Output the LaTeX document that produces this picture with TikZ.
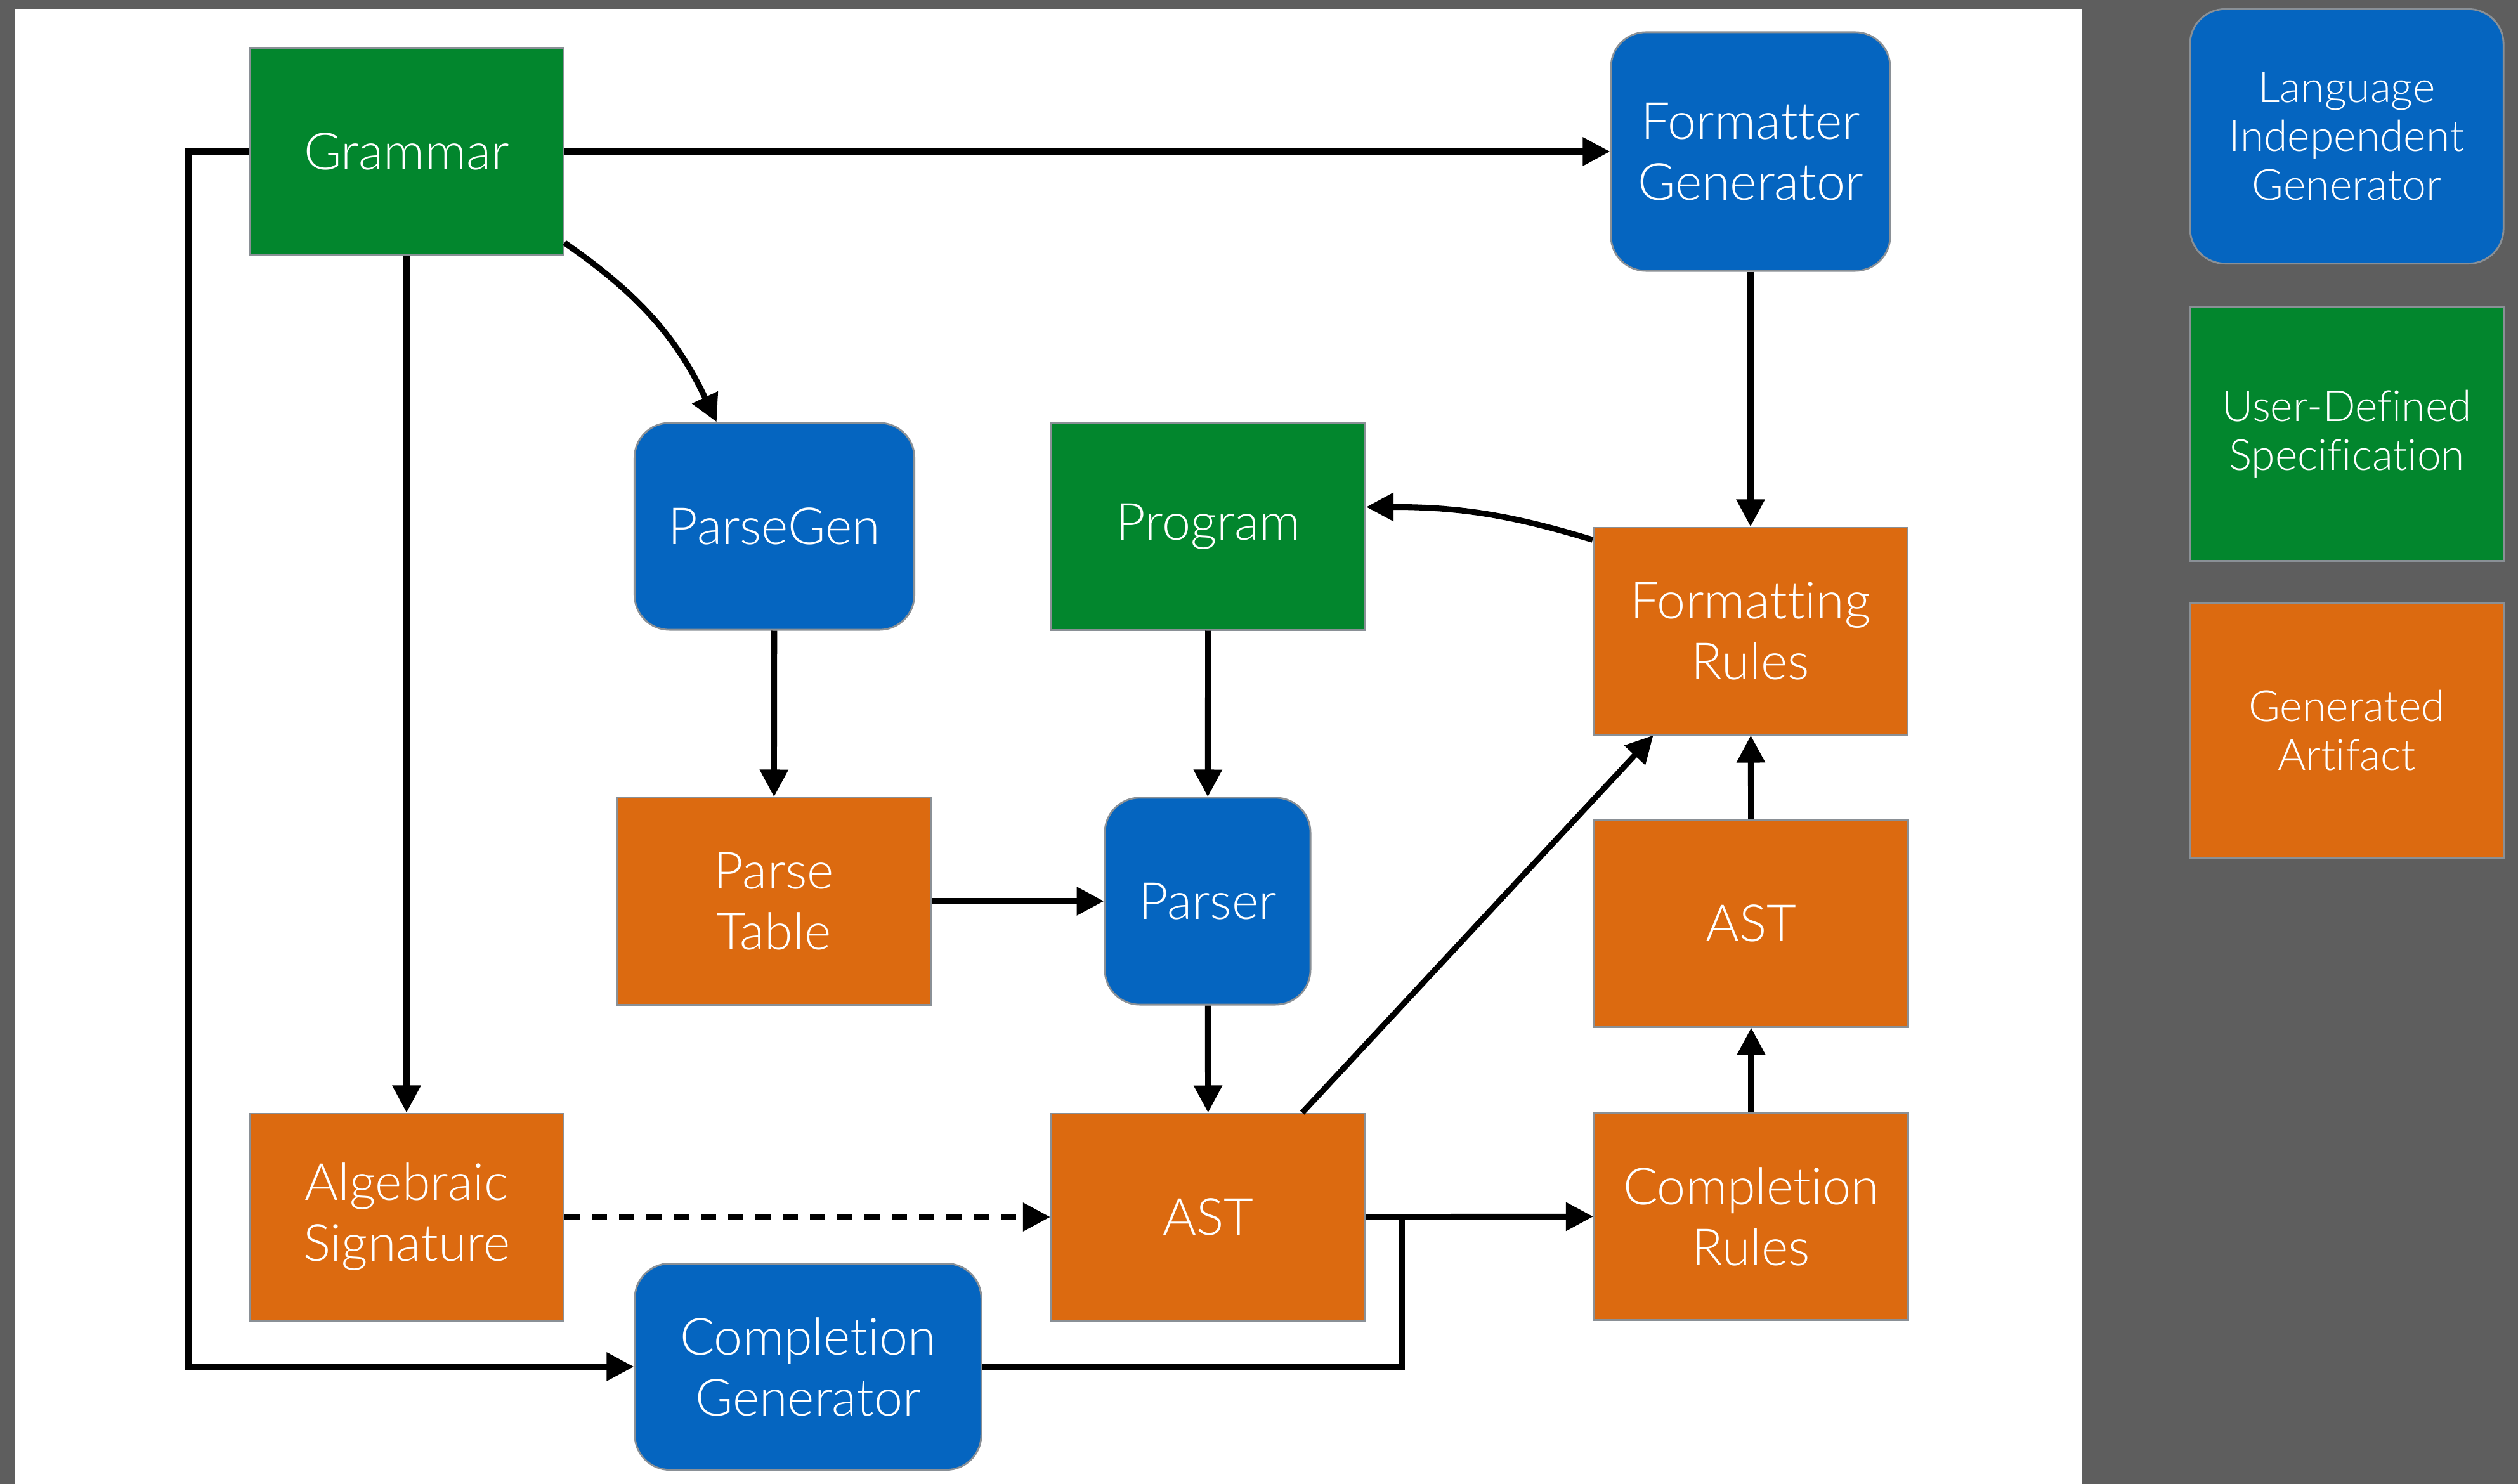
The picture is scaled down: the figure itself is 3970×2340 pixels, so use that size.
\documentclass[tikz,border=0pt]{standalone}
\usepackage{fontspec}
\setmainfont{Lato}[UprightFont=* Light, Ligatures={NoCommon}]
\usetikzlibrary{arrows.meta, positioning}
\definecolor{genblue}{HTML}{0565C0}
\definecolor{specgreen}{HTML}{02862D}
\definecolor{artorange}{HTML}{DC6A10}
\definecolor{bggray}{HTML}{5E5E5E}
\definecolor{rimgray}{HTML}{8A9096}
\tikzset{
->, % every connector is directed
>={Triangle[length=0.43cm,width=0.43cm]}, % big filled arrow heads
box/.style={draw=rimgray, line width=0.8pt, text=white, align=center, minimum width=4.95cm, minimum height=3.26cm, font=\fontsize{23}{27.3}\selectfont}, % common look of all boxes
gen/.style={box, fill=genblue, rounded corners=0.55cm}, % language independent generator
spec/.style={box, fill=specgreen}, % user-defined specification
artifact/.style={box, fill=artorange}, % generated artifact
legend/.style={minimum width=4.94cm, minimum height=4.01cm, font=\fontsize{19.3}{21.9}\selectfont}, % boxes of the key on the right
}

\begin{document}
\begin{tikzpicture}[x=0.01cm, y=-0.01cm, line width=2.6pt]
\fill[bggray] (0,0) rectangle (3970,2340);
\fill[white] (24,14) rectangle (3283,2340);

\node[spec] at (641,239) (gram) {Grammar};
\node[gen, minimum width=4.4cm, minimum height=3.76cm] at (2760,239) (fgen) {Formatter\\Generator};
\node[gen, minimum width=4.41cm] at (1221,830) (pgen) {ParseGen};
\node[spec] at (1905,830) (prog) {Program};
\node[artifact] at (2760,995) (frul) {Formatting\\Rules};
\node[artifact] at (1220,1421) (ptab) {Parse\\Table};
\node[gen, minimum width=3.24cm] at (1904,1421) (pars) {Parser};
\node[artifact] at (2761,1456) (ast2) {AST};
\node[artifact] at (641,1919) (alg) {Algebraic\\Signature};
\node[artifact] at (1905,1919) (ast1) {AST};
\node[artifact] at (2761,1918) (crul) {Completion\\Rules};
\node[gen, minimum width=5.46cm, minimum height=3.25cm] at (1274,2155) (cgen) {Completion\\Generator};

\node[gen, legend] at (3700,215) (leg1) {Language\\Independent\\Generator};
\node[spec, legend] at (3700,684) (leg2) {User-Defined\\Specification};
\node[artifact, legend] at (3700,1152) (leg3) {Generated\\Artifact};

\path (gram) edge (fgen)
    (gram.-30) edge[bend left=15] (pgen.119)
    (gram) edge (alg)
    (pgen) edge (ptab)
    (prog) edge (pars)
    (ptab) edge (pars)
    (pars) edge (ast1)
    (alg) edge[dash pattern=on 0.24cm off 0.19cm] (ast1)
    (ast1) edge (crul)
    (crul) edge (ast2)
    (ast2) edge (frul)
    (fgen) edge (frul)
    (ast1.48) edge (frul.-133)
    (frul.150) edge[out=163, in=0] (prog.7);
\draw (gram.west) -- ++(-95,0) |- (cgen.west);
\draw[-] (cgen.east) -| ([xshift=0.56cm]ast1.east);
\end{tikzpicture}
\end{document}
